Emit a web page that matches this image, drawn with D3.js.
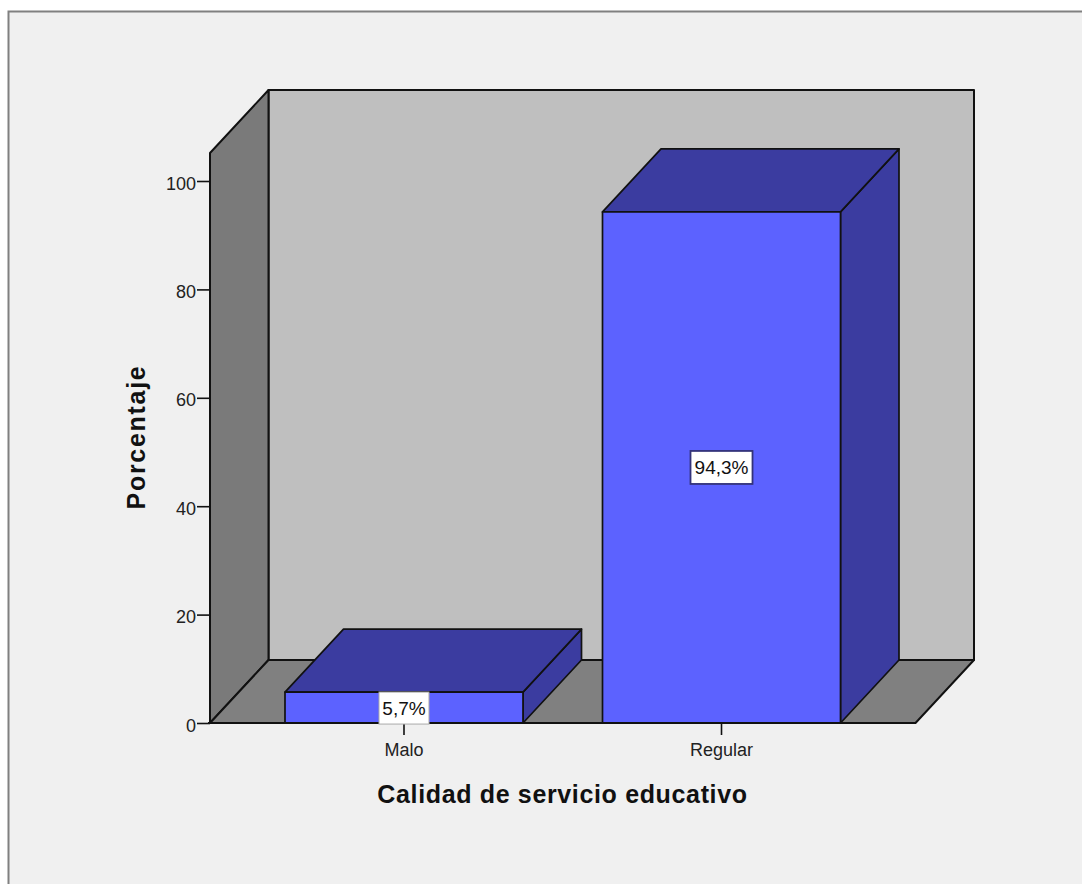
<!DOCTYPE html>
<html><head><meta charset="utf-8">
<script src="https://cdn.jsdelivr.net/npm/d3@7/dist/d3.min.js"></script>
<style>html,body{margin:0;padding:0;background:#fff}svg{display:block}text{font-family:"Liberation Sans",Arial,sans-serif;fill:#111}</style>
</head><body><svg id="c" width="1082" height="884"></svg>
<script>
const categories = ["Malo","Regular"];
const values = [5.7,94.3];
const valueLabels = ["5,7%","94,3%"];
const yTicks = [0,20,40,60,80,100];
const xTitle = "Calidad de servicio educativo";
const yTitle = "Porcentaje";

const svg = d3.select("#c");
const dx = 58.5, dy = -63;
const y = d3.scaleLinear().domain([0,100]).range([723,181]);
const x = d3.scaleBand().domain(categories).range([210,915.5]).paddingInner(0.2504).paddingOuter(0.2362);
const yTop = 153;
const L = x.range()[0], R = x.range()[1], B = y(0);
const pts = a => a.map(p=>p.join(",")).join(" ");
const ink = "#111";

svg.append("rect").attr("width",1082).attr("height",884).attr("fill","#fff");
svg.append("rect").attr("x",8).attr("y",11).attr("width",1080).attr("height",880).attr("fill","#f0f0f0");
svg.append("path").attr("d","M8.5,884V11.5H1082").attr("fill","none").attr("stroke","#808080").attr("stroke-width",2);

const poly=(a,f,sw=2)=>svg.append("polygon").attr("points",pts(a)).attr("fill",f).attr("stroke",ink).attr("stroke-width",sw).attr("stroke-linejoin","round");

// back wall, left wall, floor
poly([[L+dx,yTop+dy],[R+dx,yTop+dy],[R+dx,B+dy],[L+dx,B+dy]],"#bfbfbf");
poly([[L,yTop],[L+dx,yTop+dy],[L+dx,B+dy],[L,B]],"#7a7a7a");
poly([[L,B],[L+dx,B+dy],[R+dx,B+dy],[R,B]],"#808080");

// bars
categories.forEach((c,i)=>{
  const x0=x(c), x1=x0+x.bandwidth(), t=y(values[i]);
  poly([[x1,t],[x1+dx,t+dy],[x1+dx,B+dy],[x1,B]],"#3b3ca0",1.7);
  poly([[x0,t],[x0+dx,t+dy],[x1+dx,t+dy],[x1,t]],"#3b3ca0",1.7);
  poly([[x0,t],[x1,t],[x1,B],[x0,B]],"#5c62ff",1.7);
});

// axes
const gy=svg.append("g").attr("transform",`translate(${L},0)`).call(d3.axisLeft(y).tickValues(yTicks).tickSize(13).tickPadding(1).tickFormat(d3.format("d")));
gy.select(".domain").remove();
gy.selectAll("line").attr("stroke",ink).attr("stroke-width",1.6);
gy.selectAll("text").attr("font-size",18).attr("dy","0.45em").style("fill","#222");
const gx=svg.append("g").attr("transform",`translate(0,${B})`).call(d3.axisBottom(x).tickSize(12).tickPadding(8));
gx.select(".domain").remove();
gx.selectAll("line").attr("stroke",ink).attr("stroke-width",1.6);
gx.selectAll("text").attr("font-size",18).style("fill","#222");

// floor front line on top
svg.append("line").attr("x1",L-2).attr("x2",R).attr("y1",B).attr("y2",B).attr("stroke",ink).attr("stroke-width",2);

// value labels
const centers=[(y(values[0])+y(0))/2+0.5, y(values[1]/2)];
categories.forEach((c,i)=>{
  const cx=x(c)+x.bandwidth()/2, w=i?62:50, h=i?33:32;
  svg.append("rect").attr("x",cx-w/2).attr("y",centers[i]-h/2).attr("width",w).attr("height",h).attr("fill","#fff").attr("stroke",i?"#33337a":"#aaa").attr("stroke-width",i?1.8:1);
  svg.append("text").attr("x",cx).attr("y",centers[i]+7).attr("text-anchor","middle").attr("font-size",19).text(valueLabels[i]);
});

// titles
svg.append("text").attr("x",562.5).attr("y",803).attr("text-anchor","middle").attr("font-size",25).attr("font-weight","bold").attr("letter-spacing",0.65).text(xTitle);
svg.append("text").attr("transform","translate(145,437) rotate(-90)").attr("text-anchor","middle").attr("font-size",25).attr("font-weight","bold").attr("letter-spacing",1.7).text(yTitle);
</script></body></html>
